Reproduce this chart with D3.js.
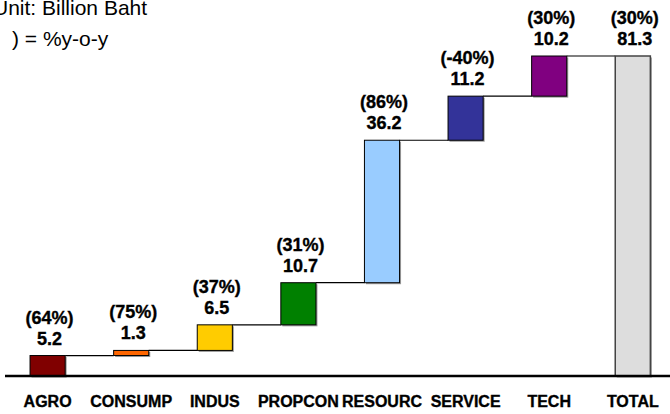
<!DOCTYPE html>
<html>
<head>
<meta charset="utf-8">
<script src="https://cdn.jsdelivr.net/npm/d3@7/dist/d3.min.js"></script>
<style>
  html, body { margin: 0; padding: 0; background: #fff; }
  svg { display: block; }
  text { font-family: Arial, "Liberation Sans", sans-serif; }
  .heavy { stroke: #000; stroke-width: 0.35px; }
</style>
</head>
<body>
<svg id="chart" width="670" height="414"></svg>
<script>
const categories = ["AGRO", "CONSUMP", "INDUS", "PROPCON", "RESOURC", "SERVICE", "TECH", "TOTAL"];
const values = [5.2, 1.3, 6.5, 10.7, 36.2, 11.2, 10.2, 81.3];
const growthLabels = ["(64%)", "(75%)", "(37%)", "(31%)", "(86%)", "(-40%)", "(30%)", "(30%)"];
const palette = ["#800000", "#FF6600", "#FFCC00", "#008000", "#99CCFF", "#333399", "#800080", "#DDDDDD"];

const svg = d3.select("#chart");
const baseY = 376;

const x = d3.scaleBand()
  .domain(categories)
  .range([5.8, 674.6])
  .paddingInner(0.58)
  .paddingOuter(0.29);

const y = d3.scaleLinear()
  .domain([0, 81.3])
  .range([baseY, 56]);

// Build waterfall segments
let cum = 0;
const rows = categories.map((c, i) => {
  const isTotal = i === categories.length - 1;
  const start = isTotal ? 0 : cum;
  const end = isTotal ? values[i] : cum + values[i];
  if (!isTotal) cum = end;
  return { cat: c, value: values[i], growth: growthLabels[i], start, end, color: palette[i], isTotal };
});

// Connectors
const conn = svg.append("g");
for (let i = 0; i < rows.length - 1; i++) {
  const lvl = rows[i].end;
  conn.append("line")
    .attr("x1", x(rows[i].cat) + x.bandwidth())
    .attr("x2", x(rows[i + 1].cat))
    .attr("y1", y(lvl)).attr("y2", y(lvl))
    .attr("stroke", "#000").attr("stroke-width", 1.2);
}

// Bar shadows
svg.append("g").selectAll("rect").data(rows).join("rect")
  .attr("x", d => x(d.cat) + 1.5)
  .attr("y", d => y(d.end) + 1.5)
  .attr("width", x.bandwidth())
  .attr("height", d => Math.max(0, y(d.start) - y(d.end)))
  .attr("fill", "#9a9a9a");

// Bars
svg.append("g").selectAll("rect").data(rows).join("rect")
  .attr("x", d => x(d.cat))
  .attr("y", d => y(d.end))
  .attr("width", x.bandwidth())
  .attr("height", d => y(d.start) - y(d.end))
  .attr("fill", d => d.color)
  .attr("stroke", d => d.isTotal ? "#444" : "#000")
  .attr("stroke-width", d => d.isTotal ? 1.5 : 1);

// Axis
const axis = d3.axisBottom(x).tickSize(0).tickPadding(20);
const gx = svg.append("g").attr("transform", `translate(0,${baseY})`).call(axis);
gx.select(".domain").attr("stroke", "#000").attr("stroke-width", 2.5).attr("d", `M5,0H670`);
gx.selectAll(".tick text")
  .attr("class", "heavy")
  .attr("font-family", "Arial, 'Liberation Sans', sans-serif")
  .attr("font-size", 16)
  .attr("font-weight", "bold")
  .attr("fill", "#000");

// Value labels
const lab = svg.append("g").attr("font-weight", "bold").attr("font-size", 18).attr("text-anchor", "middle").attr("fill", "#000");
lab.selectAll("text.v").data(rows).join("text").attr("class", "v heavy")
  .attr("x", d => x(d.cat) + x.bandwidth() / 2 + 2)
  .attr("y", d => y(d.end) - 11)
  .text(d => d.value.toFixed(1));
lab.selectAll("text.g").data(rows).join("text").attr("class", "g heavy")
  .attr("x", d => x(d.cat) + x.bandwidth() / 2 + 2)
  .attr("y", d => y(d.end) - 32)
  .text(d => d.growth);

// Top-left notes
svg.append("text").attr("x", -7).attr("y", 15).attr("font-size", 21).attr("fill", "#000").text("Unit: Billion Baht");
svg.append("text").attr("x", 12).attr("y", 46).attr("font-size", 21).attr("fill", "#000").text(") = %y-o-y");
</script>
</body>
</html>
